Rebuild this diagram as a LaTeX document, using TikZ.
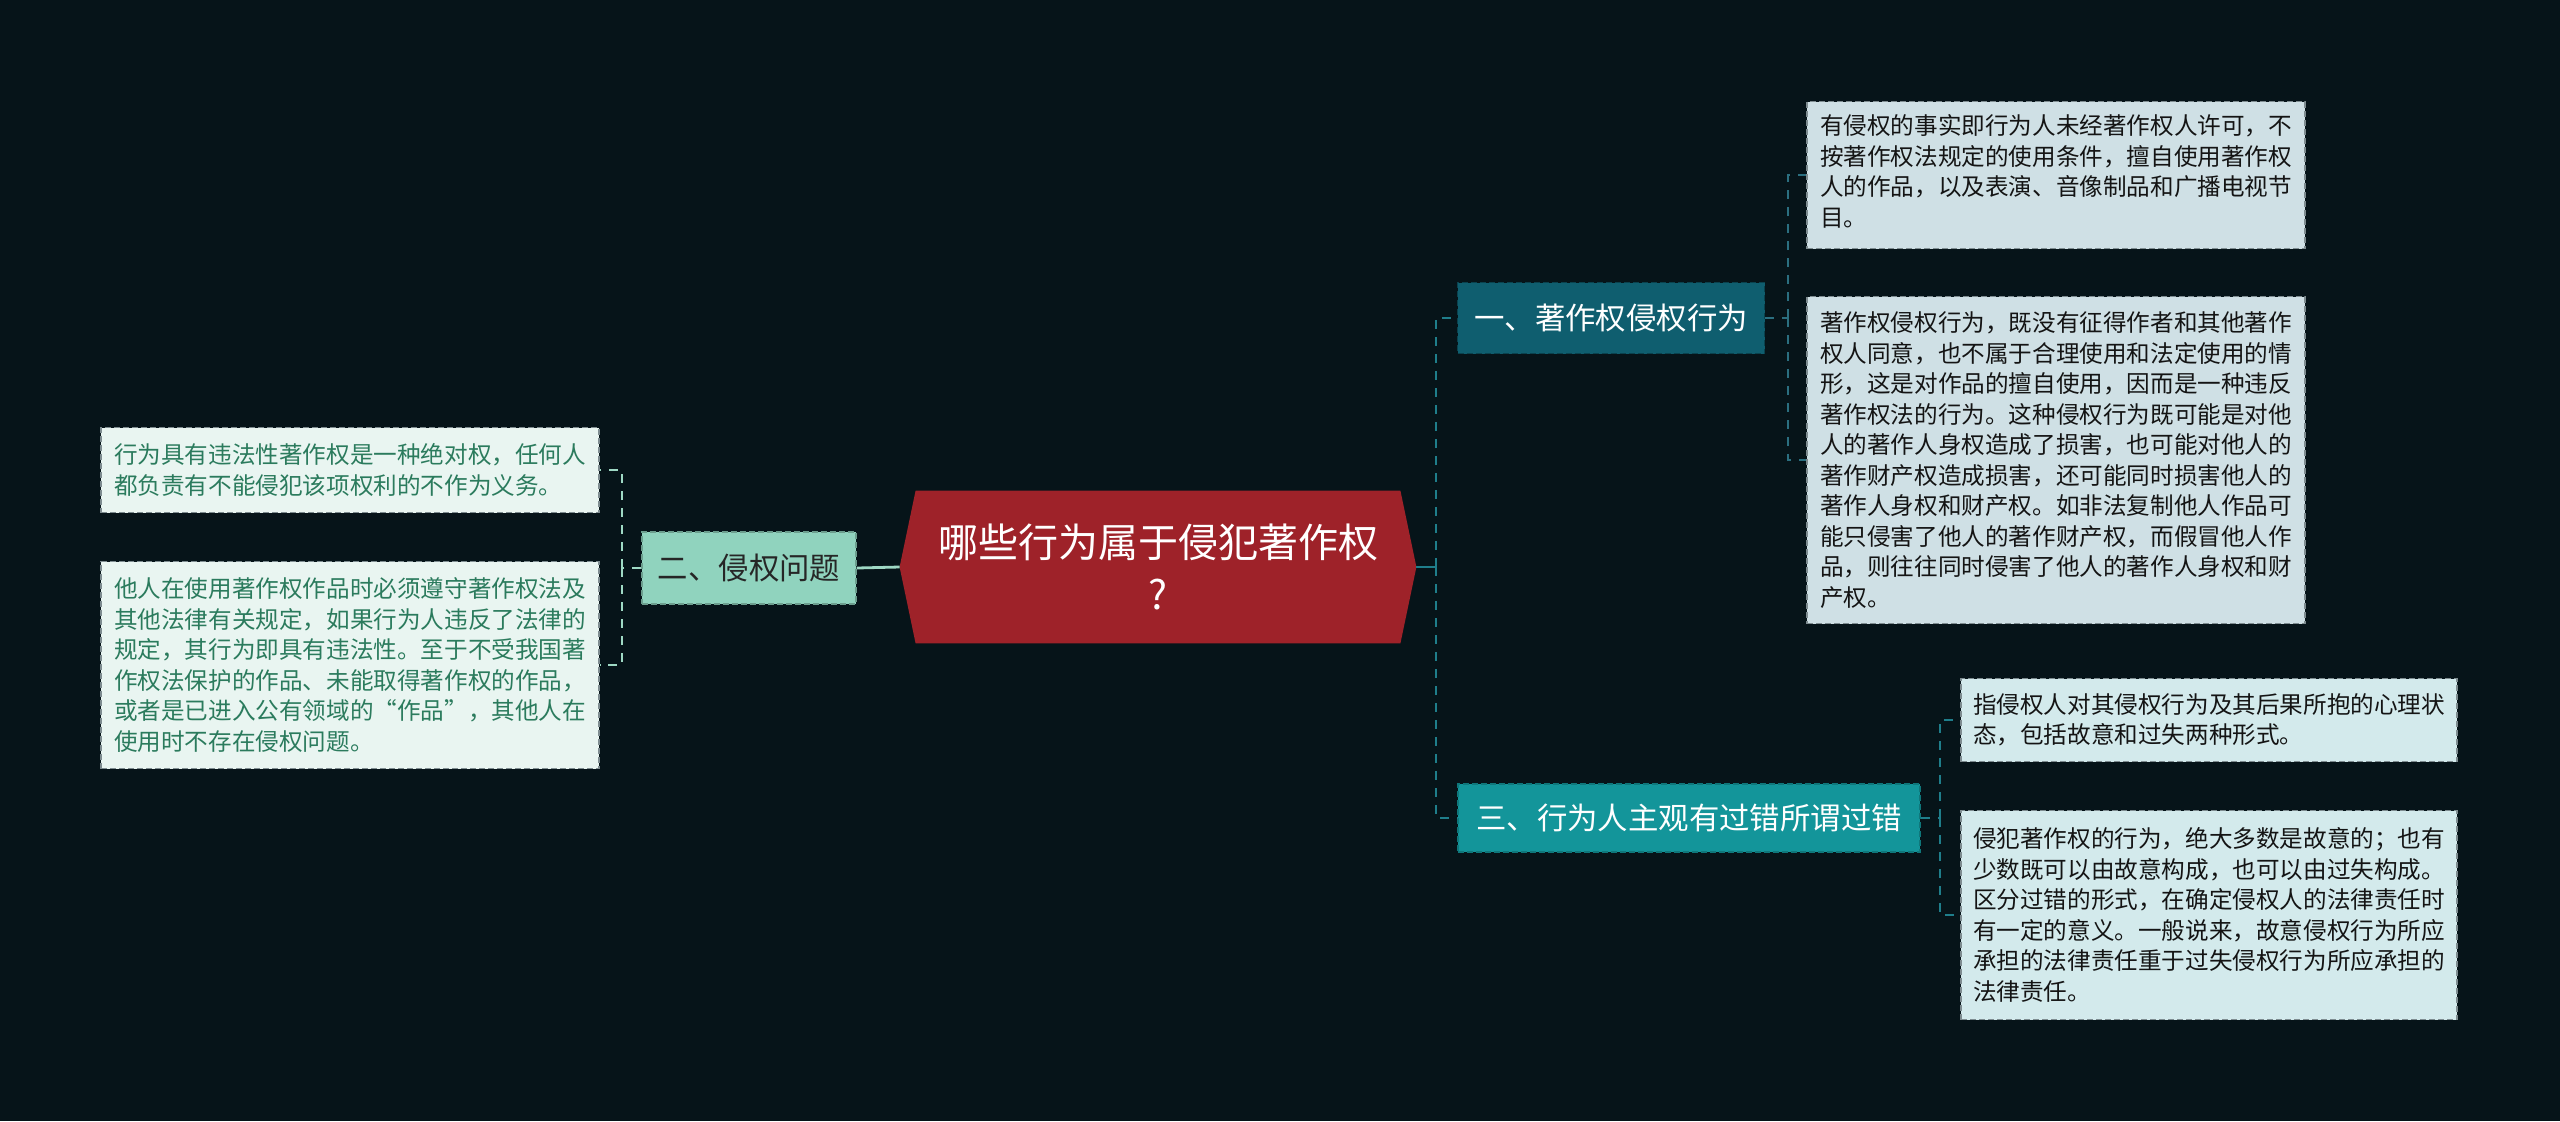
\documentclass[tikz,border=0pt]{standalone}
\usepackage{fontspec}
\setmainfont{Noto Sans CJK SC}
\usetikzlibrary{calc}
\pgfdeclarelayer{back}
\pgfsetlayers{back,main}
\definecolor{bgc}{HTML}{061419}
\definecolor{rootred}{HTML}{9E2229}
\definecolor{n1fill}{HTML}{0F5E6F}
\definecolor{n3fill}{HTML}{13959A}
\definecolor{n2fill}{HTML}{90D3BE}
\definecolor{lfillA}{HTML}{CFE0E5}
\definecolor{lfillC}{HTML}{D3EAEC}
\definecolor{lfillE}{HTML}{E9F5F1}
\definecolor{greentext}{HTML}{2B7B5D}
\definecolor{conR}{HTML}{1F7E8B}
\definecolor{conR2}{HTML}{2B6F80}
\definecolor{conG}{HTML}{9ED9C4}
\definecolor{leafborder}{HTML}{7E8C90}
\tikzset{
  mainnode/.style={draw, dashed, dash pattern=on 3pt off 1.5pt, line width=0.6pt, inner sep=0pt,
    font=\fontsize{15.2}{19}\selectfont, align=center},
  leafnode/.style={draw=leafborder, dashed, dash pattern=on 3pt off 1.5pt, line width=0.6pt, inner sep=0pt,
    font=\fontsize{11.8}{15.25}\selectfont, align=left, text=black!92},
  conn/.style={line width=1.4pt, dashed, dash pattern=on 4.5pt off 4pt},
}
\begin{document}
\begin{tikzpicture}[x=0.5pt,y=-0.5pt]
\begin{pgfonlayer}{back}
\fill[bgc] (0,0) rectangle (2560,1121);
\end{pgfonlayer}
\useasboundingbox (0,0) rectangle (2560,1121);

% root
\node[inner sep=0pt, minimum width=258pt, minimum height=76pt, text=white, align=center,
  font=\fontsize{20}{26}\selectfont] (root) at (1158,567) {哪些行为属于侵犯著作权\\?};
\begin{pgfonlayer}{back}
\fill[rootred] ([xshift=8pt]root.north west) -- ([xshift=-8pt]root.north east) -- (root.east)
  -- ([xshift=-8pt]root.south east) -- ([xshift=8pt]root.south west) -- (root.west) -- cycle;
\end{pgfonlayer}

% level 1
\node[mainnode, draw=n1fill!70!black, fill=n1fill, text=white, minimum width=153.5pt, minimum height=35.5pt] (n1) at (1611,318) {一、著作权侵权行为};
\node[mainnode, draw=n3fill!80!black, fill=n3fill, text=white, minimum width=231pt, minimum height=34pt] (n3) at (1689,818) {三、行为人主观有过错所谓过错};
\node[mainnode, draw=n2fill!75!black, fill=n2fill, text=black!85, minimum width=107pt, minimum height=36pt] (n2) at (749,568) {二、侵权问题};

% leaves
\node[leafnode, fill=lfillA, minimum width=249pt, minimum height=73.5pt] (la) at (2056,175) {有侵权的事实即行为人未经著作权人许可，不\\按著作权法规定的使用条件，擅自使用著作权\\人的作品，以及表演、音像制品和广播电视节\\目。\hfill\strut};
\node[leafnode, fill=lfillA, minimum width=249pt, minimum height=163.5pt] (lb) at (2056,460) {著作权侵权行为，既没有征得作者和其他著作\\权人同意，也不属于合理使用和法定使用的情\\形，这是对作品的擅自使用，因而是一种违反\\著作权法的行为。这种侵权行为既可能是对他\\人的著作人身权造成了损害，也可能对他人的\\著作财产权造成损害，还可能同时损害他人的\\著作人身权和财产权。如非法复制他人作品可\\能只侵害了他人的著作财产权，而假冒他人作\\品，则往往同时侵害了他人的著作人身权和财\\产权。};
\node[leafnode, fill=lfillC, minimum width=248pt, minimum height=41.5pt] (lc) at (2209,720) {指侵权人对其侵权行为及其后果所抱的心理状\\态，包括故意和过失两种形式。};
\node[leafnode, fill=lfillC, minimum width=248pt, minimum height=104.5pt] (ld) at (2209,915) {侵犯著作权的行为，绝大多数是故意的；也有\\少数既可以由故意构成，也可以由过失构成。\\区分过错的形式，在确定侵权人的法律责任时\\有一定的意义。一般说来，故意侵权行为所应\\承担的法律责任重于过失侵权行为所应承担的\\法律责任。};
\node[leafnode, fill=lfillE, text=greentext, minimum width=249pt, minimum height=42.5pt] (le) at (350,470) {行为具有违法性著作权是一种绝对权，任何人\\都负责有不能侵犯该项权利的不作为义务。};
\node[leafnode, fill=lfillE, text=greentext, minimum width=249pt, minimum height=103.5pt] (lf) at (350,665) {他人在使用著作权作品时必须遵守著作权法及\\其他法律有关规定，如果行为人违反了法律的\\规定，其行为即具有违法性。至于不受我国著\\作权法保护的作品、未能取得著作权的作品，\\或者是已进入公有领域的“作品”，其他人在\\使用时不存在侵权问题。};

% junctions
\coordinate (jR) at (1436,567);
\coordinate (j1) at (1788,318);
\coordinate (j3) at (1940,818);
\coordinate (jL) at (622,568);

% connectors right
\draw[conR, line width=1.4pt] (root.east) -- (jR);
\draw[conn, conR] (jR) |- (n1.west);
\draw[conn, conR] (jR) |- (n3.west);
\draw[conn, conR2] (n1.east) -- (j1);
\draw[conn, conR2] (j1) |- (la.west);
\draw[conn, conR2] (j1) |- (lb.west);
\draw[conn, conR] (n3.east) -- (j3);
\draw[conn, conR] (j3) |- (lc.west);
\draw[conn, conR] (j3) |- (ld.west);
% connectors left
\draw[conG, line width=1.4pt] (root.west) -- (n2.east);
\draw[conn, conG] (n2.west) -- (jL);
\draw[conn, conG] (jL) |- (le.east);
\draw[conn, conG] (jL) |- (lf.east);
\end{tikzpicture}
\end{document}
